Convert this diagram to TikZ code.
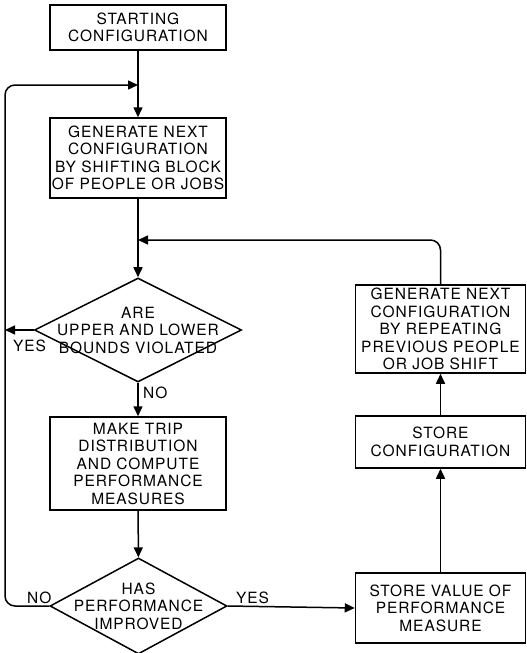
\documentclass[tikz,border=0pt]{standalone}
\usepackage{fontspec}
\setmainfont{TeX Gyre Heros}[LetterSpace=6.0]
\usetikzlibrary{shapes.geometric,arrows.meta}
\begin{document}
\begin{tikzpicture}[x=1pt,y=-1pt,
  every node/.style={font=\fontsize{15.5}{17.5}\selectfont},
  box/.style={draw, line width=1.5pt, inner sep=0pt, align=center, minimum width=176pt},
  rbox/.style={box, minimum width=170pt},
  dia/.style={draw, diamond, line width=1.5pt, inner sep=0pt},
  txt/.style={align=center, inner sep=0pt},
  lbl/.style={inner sep=0pt},
  line/.style={line width=1.5pt, rounded corners=10pt},
  arr/.style={line, -{Triangle[length=10pt,width=9pt]}}]
\useasboundingbox (0,0) rectangle (527,653);
\fill[white] (0,0) rectangle (527,653);

\node[box, minimum height=45pt] (start) at (138,27.5) {STARTING\\CONFIGURATION};
\node[box, minimum height=80pt] (gen) at (138,158) {GENERATE NEXT\\CONFIGURATION\\BY SHIFTING BLOCK\\OF PEOPLE OR JOBS};
\node[dia, minimum width=207pt, minimum height=104pt,
  label={[txt]center:{ARE\\UPPER AND LOWER\\BOUNDS VIOLATED}}] (d1) at (138,330) {};
\node[box, minimum height=93pt] (trip) at (138,463.5) {MAKE TRIP\\DISTRIBUTION\\AND COMPUTE\\PERFORMANCE\\MEASURES};
\node[dia, minimum width=177pt, minimum height=96pt,
  label={[txt]center:{HAS\\PERFORMANCE\\IMPROVED}}] (d2) at (138.5,606) {};

\node[rbox, minimum height=70pt] (sv) at (440.5,608) {STORE VALUE OF\\PERFORMANCE\\MEASURE};
\node[rbox, minimum height=52pt] (sc) at (440.5,442) {STORE\\CONFIGURATION};
\node[rbox, minimum height=88pt] (rep) at (440.5,329) {GENERATE NEXT\\CONFIGURATION\\BY REPEATING\\PREVIOUS PEOPLE\\OR JOB SHIFT};

\coordinate (j1) at (138,85);
\coordinate (j2) at (138,240);
\coordinate (lx) at (5,330);

\draw[arr] (start) -- (gen);
\draw[arr] (gen) -- (d1);
\draw[arr] (d1) -- (trip);
\draw[arr] (trip) -- (d2);
\draw[arr] (d2.east) -- (sv.west);
\draw[arr] (sv) -- (sc);
\draw[arr] (sc) -- (rep);
\draw[arr] (rep.north) |- (j2);
\draw[arr] (d2.west) -- (5,606) -- (5,85) -- (j1);
\draw[arr] (d1.west) -- (lx);

\node[lbl, anchor=north west] (yes1) at (13,340) {YES};
\node[lbl, anchor=north west] (no1) at (143,387) {NO};
\node[lbl, anchor=south west] (no2) at (27,604) {NO};
\node[lbl, anchor=south west] (yes2) at (236,604) {YES};
\end{tikzpicture}
\end{document}
